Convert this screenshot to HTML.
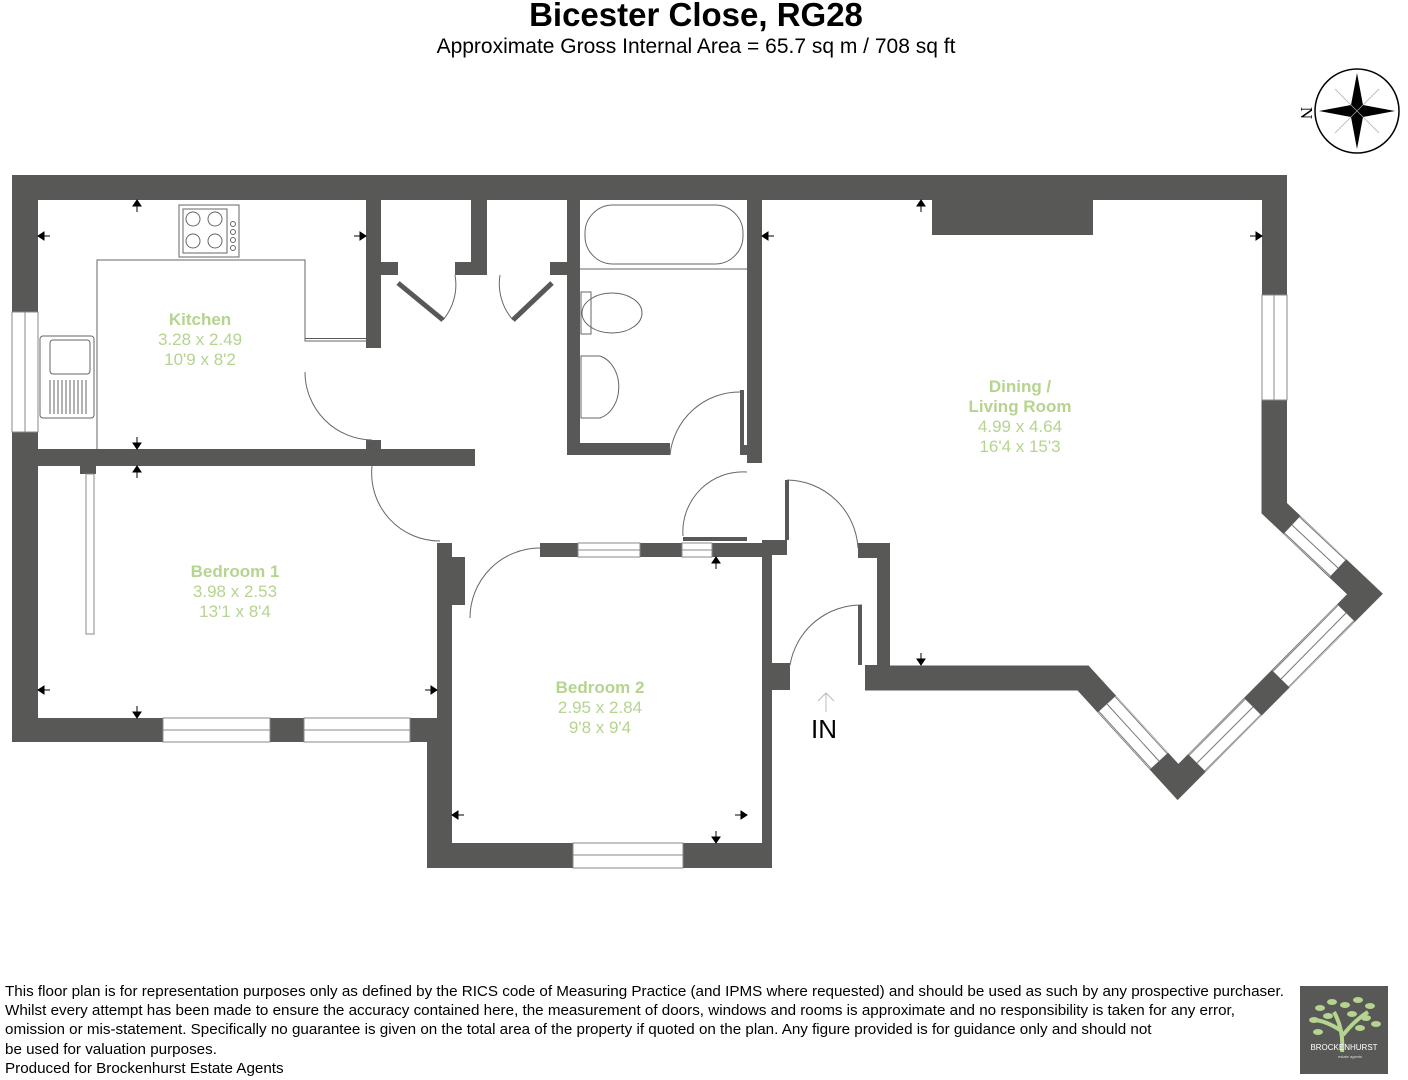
<!DOCTYPE html>
<html><head><meta charset="utf-8"><style>
html,body{margin:0;padding:0;background:#fff;}
body{width:1408px;height:1080px;position:relative;overflow:hidden;font-family:"Liberation Sans",sans-serif;}
.t{position:absolute;white-space:nowrap;}
.lbl{position:absolute;text-align:center;color:#b5d48f;font-size:17px;line-height:20px;transform:translateX(-50%);}
.lbl b{font-weight:bold;}
.foot{position:absolute;left:5px;top:982px;font-size:15.2px;line-height:19.2px;color:#000;white-space:nowrap;}
</style></head><body>
<div class="t" style="left:0;width:1392px;text-align:center;top:-4px;font-size:33px;font-weight:bold;">Bicester Close, RG28</div>
<div class="t" style="left:0;width:1392px;text-align:center;top:35px;font-size:21px;">Approximate Gross Internal Area = 65.7 sq m / 708 sq ft</div>

<svg width="1408" height="1080" style="position:absolute;left:0;top:0" xmlns="http://www.w3.org/2000/svg">
<g fill="#585957">
<rect x="12" y="175" width="1275" height="25"/>
<rect x="12" y="175" width="26" height="137"/>
<rect x="12" y="432" width="26" height="310"/>
<rect x="38" y="449" width="437" height="17"/>
<rect x="80" y="466" width="16" height="8"/>
<rect x="12" y="718" width="151" height="24"/>
<rect x="270" y="718" width="34" height="24"/>
<rect x="410" y="718" width="42" height="24"/>
<rect x="437" y="543" width="15" height="180"/>
<rect x="427" y="718" width="25" height="150"/>
<rect x="452" y="557" width="13" height="48"/>
<rect x="540" y="543" width="38" height="14"/>
<rect x="640" y="543" width="42" height="14"/>
<rect x="712" y="543" width="60" height="14"/>
<rect x="762" y="543" width="10" height="325"/>
<rect x="762" y="663" width="28" height="27"/>
<rect x="427" y="843" width="146" height="25"/>
<rect x="683" y="843" width="89" height="25"/>
<rect x="366" y="200" width="15" height="148"/>
<rect x="305" y="338" width="61" height="1" />
<rect x="366" y="440" width="15" height="12"/>
<rect x="471" y="200" width="16" height="75"/>
<rect x="381" y="262" width="17" height="13"/>
<rect x="455" y="262" width="32" height="13"/>
<rect x="550" y="262" width="17" height="13"/>
<rect x="567" y="200" width="13" height="255"/>
<rect x="567" y="443" width="103" height="12"/>
<rect x="747" y="200" width="15" height="263"/>
<rect x="740" y="445" width="8" height="10"/>
<rect x="762" y="540" width="25" height="15"/>
<rect x="858" y="543" width="32" height="15"/>
<rect x="877" y="543" width="13" height="147"/>
<rect x="865" y="665" width="12" height="25"/>
<rect x="932" y="200" width="161" height="35"/>
<rect x="1262" y="175" width="25" height="120"/>
<rect x="1262" y="400" width="25" height="110"/>
</g>
<polyline points="1274,400 1274,508 1365,594 1178,782 1083,678 865,678" fill="none" stroke="#585957" stroke-width="25" stroke-linejoin="miter"/>
<g stroke="#fff" stroke-width="24" fill="none">
<line x1="1292" y1="525" x2="1338" y2="568"/>
<line x1="1346" y1="613" x2="1281" y2="679"/>
<line x1="1253" y1="707" x2="1197" y2="763"/>
<line x1="1159" y1="761" x2="1107" y2="704"/>
</g>
<g stroke="#777" stroke-width="1" fill="none">
<line x1="1284.4" y1="533" x2="1330.4" y2="576"/><line x1="1299.6" y1="517" x2="1345.6" y2="560"/><line x1="1292" y1="525" x2="1338" y2="568"/>
<line x1="1353.8" y1="620.8" x2="1288.8" y2="686.8"/><line x1="1338.2" y1="605.2" x2="1273.2" y2="671.2"/><line x1="1346" y1="613" x2="1281" y2="679"/>
<line x1="1260.8" y1="714.8" x2="1204.8" y2="770.8"/><line x1="1245.2" y1="699.2" x2="1189.2" y2="755.2"/><line x1="1253" y1="707" x2="1197" y2="763"/>
<line x1="1167.1" y1="753.6" x2="1115.1" y2="696.6"/><line x1="1150.9" y1="768.4" x2="1098.9" y2="711.4"/><line x1="1159" y1="761" x2="1107" y2="704"/>
</g>
<g fill="#fff" stroke="#888" stroke-width="1">
<rect x="12" y="312" width="26" height="120"/><line x1="25" y1="312" x2="25" y2="432"/>
<rect x="1262" y="295" width="25" height="105"/><line x1="1274" y1="295" x2="1274" y2="400"/>
<rect x="163" y="718" width="107" height="24"/><line x1="163" y1="730" x2="270" y2="730"/>
<rect x="304" y="718" width="106" height="24"/><line x1="304" y1="730" x2="410" y2="730"/>
<rect x="578" y="543" width="62" height="14"/><line x1="578" y1="550" x2="640" y2="550"/>
<rect x="682" y="543" width="30" height="14"/><line x1="682" y1="550" x2="712" y2="550"/>
<rect x="573" y="843" width="110" height="25"/><line x1="573" y1="855" x2="683" y2="855"/>
<rect x="86" y="474" width="8" height="160"/>
</g>
<g fill="none" stroke="#666" stroke-width="1">
<path d="M97,449 V260 H305 V341 H366"/>
<rect x="179" y="205" width="60" height="52"/><rect x="183" y="209" width="44" height="44"/>
<circle cx="193" cy="219" r="7"/><circle cx="215" cy="219" r="7"/><circle cx="193" cy="241" r="7"/><circle cx="215" cy="241" r="7"/>
<circle cx="233" cy="224" r="2.5"/><circle cx="233" cy="232" r="2.5"/><circle cx="233" cy="240" r="2.5"/><circle cx="233" cy="248" r="2.5"/>
<rect x="40" y="336" width="54" height="82" rx="3"/><rect x="50" y="340" width="40" height="34" rx="3"/>
<path d="M50,380 V414 M54,380 V414 M58,380 V414 M62,380 V414 M66,380 V414 M70,380 V414 M74,380 V414 M78,380 V414 M82,380 V414 M86,380 V414"/>
<path d="M305,372 A68,68 0 0 0 372,440"/>
<path d="M372,466 A68,68 0 0 0 440,541"/>
<path d="M470,618 A70,70 0 0 1 540,548"/>
<path d="M670,455 A70,70 0 0 1 740,392"/>
<path d="M683,536 A60,60 0 0 1 747,472"/>
<path d="M787,480 A72,72 0 0 1 858,548"/>
<path d="M790,665 A72,72 0 0 1 862,605"/>
<path d="M443,320 A55,55 0 0 0 455,275 M513,320 A55,55 0 0 1 500,275"/>
<rect x="585" y="205" width="158" height="59" rx="28" ry="28"/>
<line x1="580" y1="269" x2="747" y2="269"/>
<ellipse cx="612" cy="313" rx="30" ry="20"/><rect x="581" y="292" width="10" height="42"/>
<path d="M581,356 H600 A25,32 0 0 1 600,418 H581 Z"/>
</g>
<g stroke="#585957" stroke-width="5">
<line x1="398" y1="283" x2="443" y2="320"/>
<line x1="552" y1="283" x2="513" y2="320"/>
</g>
<rect x="740" y="390" width="4" height="60" fill="#585957"/>
<rect x="858" y="605" width="4" height="60" fill="#585957"/>
<rect x="785" y="480" width="4" height="60" fill="#585957"/>
<rect x="375" y="462" width="65" height="4" fill="#585957"/>
<rect x="683" y="537" width="64" height="4" fill="#585957"/>
<g stroke="#000" stroke-width="1" fill="#000">
<line x1="137" y1="200" x2="137" y2="212"/><polygon points="133,206 141,206 137,200"/>
<line x1="38" y1="236" x2="50" y2="236"/><polygon points="44,232 44,240 38,236"/>
<line x1="354" y1="236" x2="366" y2="236"/><polygon points="360,232 360,240 366,236"/>
<line x1="137" y1="437" x2="137" y2="449"/><polygon points="133,443 141,443 137,449"/>
<line x1="137" y1="466" x2="137" y2="478"/><polygon points="133,472 141,472 137,466"/>
<line x1="38" y1="690" x2="50" y2="690"/><polygon points="44,686 44,694 38,690"/>
<line x1="425" y1="690" x2="437" y2="690"/><polygon points="431,686 431,694 437,690"/>
<line x1="137" y1="706" x2="137" y2="718"/><polygon points="133,712 141,712 137,718"/>
<line x1="762" y1="236" x2="774" y2="236"/><polygon points="768,232 768,240 762,236"/>
<line x1="1250" y1="236" x2="1262" y2="236"/><polygon points="1256,232 1256,240 1262,236"/>
<line x1="921" y1="200" x2="921" y2="212"/><polygon points="917,206 925,206 921,200"/>
<line x1="921" y1="653" x2="921" y2="665"/><polygon points="917,659 925,659 921,665"/>
<line x1="716" y1="557" x2="716" y2="569"/><polygon points="712,563 720,563 716,557"/>
<line x1="452" y1="815" x2="464" y2="815"/><polygon points="458,811 458,819 452,815"/>
<line x1="735" y1="815" x2="747" y2="815"/><polygon points="741,811 741,819 747,815"/>
<line x1="716" y1="831" x2="716" y2="843"/><polygon points="712,837 720,837 716,843"/>
</g>
<g stroke="#bbb" fill="none"><path d="M826,712 V693 M818,701 L826,693 L834,701"/></g>
<g transform="translate(1357,111)">
<circle r="42" fill="#fff" stroke="#000" stroke-width="1.5"/>
<polygon points="0,-38 6,-6 0,0 -6,-6" fill="#000"/>
<polygon points="38,0 6,6 0,0 6,-6" fill="#000"/>
<polygon points="0,38 -6,6 0,0 6,6" fill="#000"/>
<polygon points="-38,0 -6,-6 0,0 -6,6" fill="#000"/>
<g stroke="#aaa" stroke-width="0.7"><line x1="-22" y1="-22" x2="22" y2="22"/><line x1="22" y1="-22" x2="-22" y2="22"/></g>
</g>
<text x="1305" y="113" font-family="Liberation Serif" font-size="17" transform="rotate(90 1305 113)" text-anchor="middle" dominant-baseline="middle">N</text>
<rect x="1300" y="986" width="88" height="88" fill="#585957"/>
<path d="M1342,1052 Q1344,1030 1334,1012 M1343,1035 Q1355,1020 1368,1012 M1340,1030 Q1328,1022 1316,1020" stroke="#b5d48f" stroke-width="4" fill="none"/>
<g fill="#b5d48f">
<ellipse cx="1320" cy="1008" rx="5" ry="3"/><ellipse cx="1332" cy="1002" rx="5" ry="3"/><ellipse cx="1345" cy="1005" rx="5" ry="3"/><ellipse cx="1358" cy="1000" rx="5" ry="3"/><ellipse cx="1370" cy="1006" rx="5" ry="3"/><ellipse cx="1314" cy="1020" rx="5" ry="3"/><ellipse cx="1328" cy="1016" rx="5" ry="3"/><ellipse cx="1352" cy="1014" rx="5" ry="3"/><ellipse cx="1366" cy="1018" rx="5" ry="3"/><ellipse cx="1376" cy="1024" rx="5" ry="3"/><ellipse cx="1318" cy="1032" rx="5" ry="3"/><ellipse cx="1360" cy="1028" rx="5" ry="3"/>
</g>
<text x="1344" y="1050" font-size="8" fill="#fff" text-anchor="middle" font-family="Liberation Sans">BROCKENHURST</text>
<text x="1350" y="1058" font-size="4" fill="#ddd" text-anchor="middle" font-family="Liberation Sans">estate agents</text>
</svg>

<div class="lbl" style="left:200px;top:310px;"><b>Kitchen</b><br>3.28 x 2.49<br>10'9 x 8'2</div>
<div class="lbl" style="left:235px;top:562px;"><b>Bedroom 1</b><br>3.98 x 2.53<br>13'1 x 8'4</div>
<div class="lbl" style="left:600px;top:678px;"><b>Bedroom 2</b><br>2.95 x 2.84<br>9'8 x 9'4</div>
<div class="lbl" style="left:1020px;top:377px;"><b>Dining /<br>Living Room</b><br>4.99 x 4.64<br>16'4 x 15'3</div>
<div class="t" style="left:811px;top:714px;font-size:26px;">IN</div>

<div class="foot">This floor plan is for representation purposes only as defined by the RICS code of Measuring Practice (and IPMS where requested) and should be used as such by any prospective purchaser.<br>Whilst every attempt has been made to ensure the accuracy contained here, the measurement of doors, windows and rooms is approximate and no responsibility is taken for any error,<br>omission or mis-statement. Specifically no guarantee is given on the total area of the property if quoted on the plan. Any figure provided is for guidance only and should not<br>be used for valuation purposes.<br>Produced for Brockenhurst Estate Agents</div>
</body></html>
